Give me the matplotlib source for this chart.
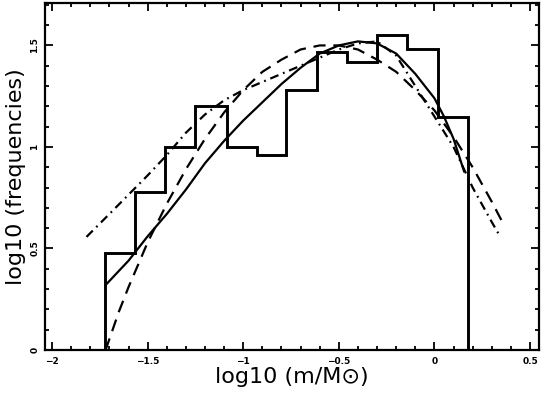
import numpy as np
import matplotlib
matplotlib.use("Agg")
import matplotlib.pyplot as plt

# histogram of log10 mass (bin edges + heights)
bin_edges = [-1.722, -1.565, -1.408, -1.251, -1.084, -0.927, -0.775,
             -0.613, -0.455, -0.298, -0.141, 0.021, 0.178]
bin_heights = [0.48, 0.78, 1.00, 1.20, 1.00, 0.96, 1.28, 1.47, 1.42, 1.55, 1.48, 1.15]

# solid fit
solid_x = [-1.72, -1.60, -1.50, -1.40, -1.30, -1.20, -1.10, -1.00, -0.90, -0.80,
           -0.70, -0.60, -0.50, -0.40, -0.30, -0.20, -0.10, 0.00, 0.05, 0.10, 0.155]
solid_y = [0.32, 0.44, 0.56, 0.67, 0.79, 0.92, 1.03, 1.13, 1.22, 1.31,
           1.39, 1.46, 1.50, 1.52, 1.51, 1.46, 1.36, 1.24, 1.15, 1.04, 0.88]

# dashed fit
dash_x = [-1.72, -1.65, -1.60, -1.50, -1.40, -1.30, -1.20, -1.10, -1.00, -0.90, -0.80,
          -0.70, -0.60, -0.50, -0.40, -0.30, -0.20, -0.10, 0.00, 0.10, 0.20, 0.30, 0.35]
dash_y = [0.00, 0.19, 0.31, 0.53, 0.72, 0.89, 1.04, 1.17, 1.28, 1.37, 1.43,
          1.48, 1.50, 1.50, 1.48, 1.43, 1.37, 1.28, 1.18, 1.05, 0.90, 0.73, 0.64]

# dash-dot fit
dd_x = [-1.82, -1.70, -1.60, -1.50, -1.40, -1.30, -1.20, -1.10, -1.00, -0.90, -0.80,
        -0.70, -0.60, -0.50, -0.40, -0.30, -0.20, -0.10, 0.00, 0.10, 0.20, 0.30, 0.345]
dd_y = [0.557, 0.67, 0.765, 0.86, 0.96, 1.07, 1.16, 1.23, 1.28, 1.32, 1.36,
        1.40, 1.44, 1.48, 1.51, 1.52, 1.45, 1.30, 1.15, 1.00, 0.80, 0.63, 0.557]

x_ticks = [-2, -1.5, -1, -0.5, 0, 0.5]
x_ticklabels = ["\u22122", "\u22121.5", "\u22121", "\u22120.5", "0", "0.5"]
y_ticks = [0, 0.5, 1, 1.5]
y_ticklabels = ["0", "0.5", "1", "1.5"]

plt.rcParams['font.family'] = ['DejaVu Sans']

fig = plt.figure(figsize=(5.45, 3.94), dpi=100)
ax = fig.add_axes([45/545, 1-350/394, 494/545, 347/394])

ax.stairs(bin_heights, bin_edges, baseline=0, fill=False, color='black', lw=2.1)
ax.plot(solid_x, solid_y, color='black', lw=1.6)
ax.plot(dash_x, dash_y, color='black', lw=1.6, dashes=(5.5, 3.5))
ax.plot(dd_x, dd_y, color='black', lw=1.6, dashes=(4, 2.2, 0.8, 2.2))

ax.set_xlim(-2.037, 0.547)
ax.set_ylim(0, 1.709)

ax.set_xticks(x_ticks)
ax.set_xticklabels(x_ticklabels, fontsize=6.5, fontweight='bold')
ax.set_yticks(y_ticks)
ax.set_yticklabels(y_ticklabels, fontsize=6.5, fontweight='bold', rotation=90, va='center')
ax.set_xticks(np.arange(-2.0, 0.55, 0.1), minor=True)
ax.set_yticks(np.arange(0, 1.71, 0.1), minor=True)
ax.tick_params(which='both', direction='in', top=True, right=True, width=1.3)
ax.tick_params(which='major', length=5.5)
ax.tick_params(axis='x', which='major', pad=5)
ax.tick_params(axis='y', which='major', pad=4)
ax.tick_params(which='minor', length=3)
for s in ax.spines.values():
    s.set_linewidth(1.6)

ax.set_xlabel("log10 (m/M\u2299)", fontsize=16, labelpad=1)
ax.set_ylabel("log10 (frequencies)", fontsize=16, labelpad=3)

fig.savefig("out.png", dpi=100)
